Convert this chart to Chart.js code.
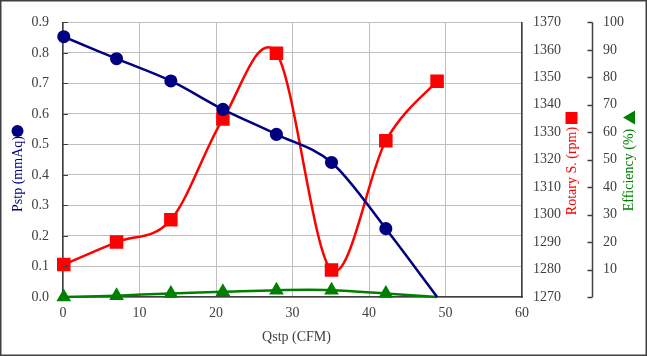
<!DOCTYPE html>
<html><head><meta charset="utf-8">
<script src="https://cdn.jsdelivr.net/npm/chart.js@4/dist/chart.umd.min.js"></script>
<style>html,body{margin:0;padding:0;background:#fff}#wrap{width:647px;height:356px;position:relative}</style>
</head><body><div id="wrap"><canvas id="c" width="647" height="356"></canvas></div>
<script>
// Data
const flow = [0.1, 7.0, 14.1, 20.9, 27.9, 35.1, 42.2, 48.9];           // Qstp (CFM)
const pstp = [0.853, 0.781, 0.708, 0.615, 0.533, 0.441, 0.224, 0];      // mmAq
const rpm  = [1281.8, 1290.0, 1298.1, 1334.8, 1358.8, 1279.8, 1326.9, 1348.6];
const eff  = [0, 0.5, 1.3, 1.9, 2.5, 2.5, 1.3, 0];                       // %
const pstpMarkers = [1, 1, 1, 1, 1, 1, 1, 0];
const effMarkers  = [1, 1, 1, 1, 1, 1, 1, 0];
const xTitle = 'Qstp (CFM)';
const yTitle = 'Pstp (mmAq)';
const y1Title = 'Rotary S. (rpm)';
const y2Title = 'Efficiency (%)';

const NAVY = '#000080', RED = '#ff0000', GREEN = '#008000';
const AX = '#404040', GRID = '#bfbfbf';
const FONT = {family: '"Liberation Serif", "Times New Roman", serif', size: 14};

const pts = (xs, ys) => xs.map((x, i) => ({x, y: ys[i]}));

// Spreadsheet-style smoothing: uniform Catmull-Rom control points on the library's own pixel positions
const smooth = {
  id: 'smooth',
  beforeDatasetDraw(chart, args) {
    const meta = args.meta, line = meta.dataset;
    if (!line || !line.updateControlPoints) return;
    line.updateControlPoints(chart.chartArea, 'x');
    const p = meta.data, n = p.length;
    for (let i = 0; i < n; i++) {
      const a = p[Math.max(i - 1, 0)], b = p[Math.min(i + 1, n - 1)];
      const dx = (b.x - a.x) / 6, dy = (b.y - a.y) / 6;
      p[i].cp1x = p[i].x - dx; p[i].cp1y = p[i].y - dy;
      p[i].cp2x = p[i].x + dx; p[i].cp2y = p[i].y + dy;
    }
    line._path = undefined;
  }
};

const deco = {
  id: 'deco',
  afterDraw(chart) {
    const ctx = chart.ctx, ca = chart.chartArea;
    ctx.save();
    const ys = chart.scales.y;
    ctx.strokeStyle = AX; ctx.lineWidth = 1;
    ys.ticks.forEach(t => {
      const y = Math.round(ys.getPixelForValue(t.value)) + 0.5;
      ctx.beginPath(); ctx.moveTo(ca.left, y); ctx.lineTo(ca.left + 5, y); ctx.stroke();
    });
    const s2 = chart.scales.y2;
    const ax = Math.round(s2.left) + 0.5;
    ctx.strokeStyle = AX; ctx.lineWidth = 1.5;
    ctx.beginPath(); ctx.moveTo(ax, s2.top); ctx.lineTo(ax, s2.bottom); ctx.stroke();
    s2.ticks.forEach(t => {
      const y = Math.round(s2.getPixelForValue(t.value)) + 0.5;
      ctx.beginPath(); ctx.moveTo(ax - 5, y); ctx.lineTo(ax, y); ctx.stroke();
    });
    ctx.font = '14px "Liberation Serif", "Times New Roman", serif';
    ctx.textAlign = 'center'; ctx.textBaseline = 'middle';
    ctx.fillStyle = AX;
    ctx.fillText(xTitle, 296.5, 337);
    const vtext = (txt, x, y, col) => {
      ctx.save(); ctx.translate(x, y); ctx.rotate(-Math.PI / 2);
      ctx.fillStyle = col; ctx.fillText(txt, 0, 0); ctx.restore();
    };
    vtext(yTitle, 18, 174, NAVY);
    vtext(y1Title, 572.5, 171, RED);
    vtext(y2Title, 629, 170, GREEN);
    ctx.fillStyle = NAVY;
    ctx.beginPath(); ctx.arc(17.5, 131, 6, 0, Math.PI * 2); ctx.fill();
    ctx.fillStyle = RED;
    ctx.fillRect(565.5, 112, 12, 12);
    ctx.fillStyle = GREEN;
    ctx.beginPath(); ctx.moveTo(623, 117.5); ctx.lineTo(635, 110.5); ctx.lineTo(635, 124.5); ctx.closePath(); ctx.fill();
    ctx.strokeStyle = AX; ctx.lineWidth = 1.5;
    ctx.strokeRect(0.75, 0.75, chart.width - 1.5, chart.height - 1.5);
    ctx.restore();
  }
};

new Chart(document.getElementById('c'), {
  type: 'line',
  data: {
    datasets: [
      {label: 'Pstp', data: pts(flow, pstp), yAxisID: 'y',
       borderColor: NAVY, backgroundColor: NAVY, borderWidth: 2.5, tension: 0.4,
       pointStyle: 'circle', pointRadius: pstpMarkers.map(m => m ? 5.3 : 0), clip: false},
      {label: 'Rotary', data: pts(flow, rpm), yAxisID: 'y1',
       borderColor: RED, backgroundColor: RED, borderWidth: 2.5, tension: 0.4,
       pointStyle: 'rect', pointRadius: 7.8, clip: false},
      {label: 'Efficiency', data: pts(flow, eff), yAxisID: 'y2',
       borderColor: GREEN, backgroundColor: GREEN, borderWidth: 2.5, tension: 0.4,
       pointStyle: 'triangle', pointRadius: effMarkers.map(m => m ? 6 : 0), clip: false}
    ]
  },
  options: {
    responsive: false, animation: false, devicePixelRatio: 1,
    layout: {padding: {top: 18, left: 0, right: 0, bottom: 0}},
    plugins: {legend: {display: false}, tooltip: {enabled: false}},
    scales: {
      x: {type: 'linear', position: 'bottom', min: 0, max: 60,
          ticks: {stepSize: 10, font: FONT, color: AX, padding: 8, maxRotation: 0},
          grid: {color: GRID, lineWidth: 1, drawTicks: false},
          border: {color: AX, width: 1.5},
          afterFit: s => { s.height = 59; }},
      y: {position: 'left', min: 0, max: 0.9,
          ticks: {stepSize: 0.1, font: FONT, color: AX, padding: 14, callback: v => Number(v).toFixed(1)},
          grid: {color: GRID, lineWidth: 1, drawTicks: false},
          border: {color: AX, width: 1.5},
          afterFit: s => { s.width = 63; }},
      y1: {position: 'right', min: 1270, max: 1370,
          ticks: {stepSize: 10, font: FONT, color: AX, padding: 11, callback: v => String(v)},
          grid: {drawOnChartArea: false, drawTicks: false},
          border: {color: AX, width: 1.5},
          afterFit: s => { s.width = 70; }},
      y2: {position: 'right', min: 0, max: 100,
          ticks: {stepSize: 10, font: FONT, color: AX, padding: 11, callback: v => v === 0 ? '' : String(v)},
          grid: {display: false, drawTicks: false},
          border: {display: false},
          afterFit: s => { s.width = 55; }}
    }
  },
  plugins: [smooth, deco]
});
</script></body></html>
